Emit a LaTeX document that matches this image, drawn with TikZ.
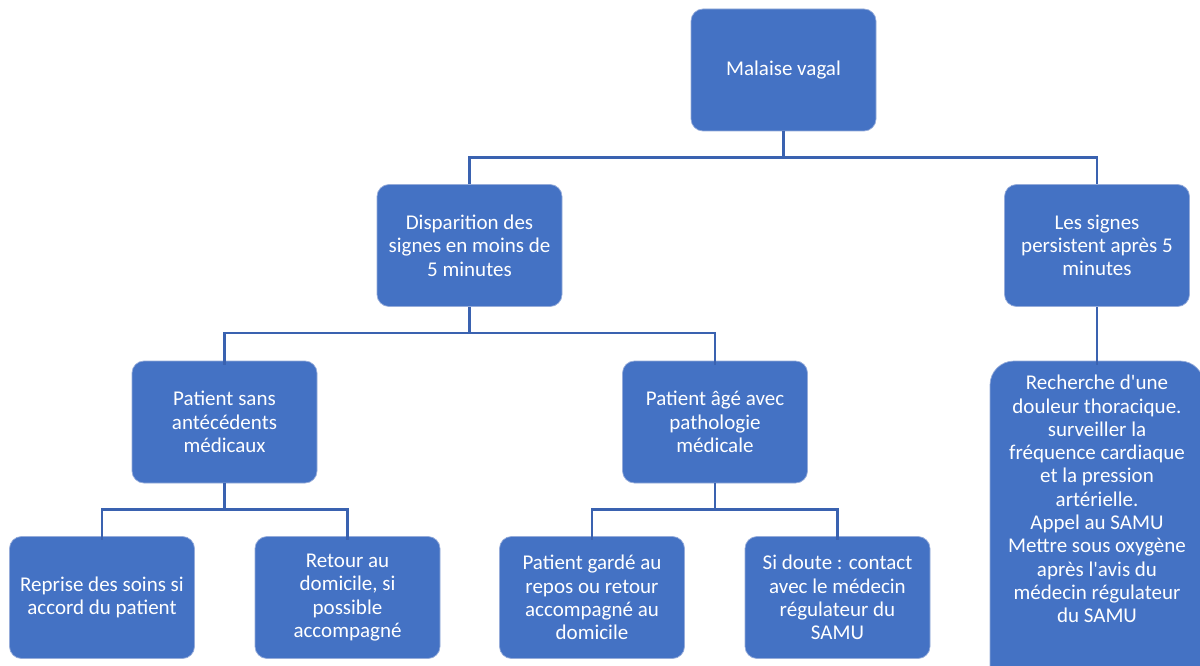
\documentclass[tikz,border=0pt]{standalone}
\usepackage{fontspec}
\setmainfont{Carlito}[Ligatures=TeXOff]
\definecolor{boxblue}{HTML}{4472C4}
\definecolor{boxedge}{RGB}{150,172,218}
\definecolor{linkblue}{RGB}{58,98,176}
\begin{document}
\begin{tikzpicture}[x=1pt,y=-1pt,
  box/.style={rectangle, rounded corners=12pt, fill=boxblue, draw=boxedge, line width=0.7pt,
    minimum width=185pt, minimum height=122pt, inner sep=0pt, text=white, align=center,
    font=\fontsize{21}{23.3}\selectfont},
  link/.style={draw=linkblue, line width=2.6pt},
  plain/.style={text=white, align=center, inner sep=0pt, font=\fontsize{21}{23.3}\selectfont}]
\clip (0,0) rectangle (1200,666);
\fill[white] (0,0) rectangle (1200,666);

\node[box] (mal) at (783.5,70) {Malaise vagal};
\node[box] (dis) at (469.5,245.5) {Disparition des\\signes en moins de\\5 minutes};
\node[box] (sig) at (1097,245.5) {Les signes\\persistent après 5\\minutes};
\node[box] (san) at (224.5,422) {Patient sans\\antécédents\\médicaux};
\node[box] (age) at (715,422) {Patient âgé avec\\pathologie\\médicale};
\node[box, minimum width=214pt, minimum height=330pt, rounded corners=24pt] (rec) at (1097,526) {};
\node[plain] (rectxt) at (1097,499) {Recherche d'une\\douleur thoracique.\\surveiller la\\fréquence cardiaque\\et la pression\\artérielle.\\Appel au SAMU\\Mettre sous oxygène\\après l'avis du\\médecin régulateur\\du SAMU};
\node[box] (rep) at (102,597.5) {Reprise des soins si\\accord du patient};
\node[box] (ret) at (347.5,597.5) {Retour au\\domicile, si\\possible\\accompagné};
\node[box] (gar) at (592,597.5) {Patient gardé au\\repos ou retour\\accompagné au\\domicile};
\node[box] (dou) at (837.5,597.5) {Si doute : contact\\avec le médecin\\régulateur du\\SAMU};

\draw[link] (mal.south) -- ++(0,26) coordinate (j1);
\draw[link] (j1) -| (dis.north);
\draw[link] (j1) -| (sig.north);
\draw[link] (dis.south) -- ++(0,26) coordinate (j2);
\draw[link] (j2) -| ([yshift=-4pt]san.north);
\draw[link] (j2) -| ([yshift=-4pt]age.north);
\draw[link] (san.south) -- ++(0,26) coordinate (j3);
\draw[link] (j3) -| ([yshift=-4pt]rep.north);
\draw[link] (j3) -| ([yshift=-4pt]ret.north);
\draw[link] (age.south) -- ++(0,26) coordinate (j4);
\draw[link] (j4) -| ([yshift=-4pt]gar.north);
\draw[link] (j4) -| ([yshift=-4pt]dou.north);
\draw[link] (sig.south) -- ([yshift=-4pt]rec.north);
\end{tikzpicture}
\end{document}
